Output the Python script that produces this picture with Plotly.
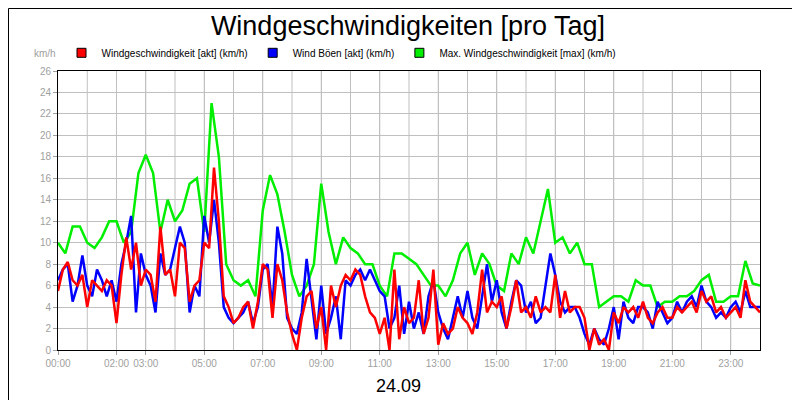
import plotly.graph_objects as go

# 10-minute samples, 00:00 .. 24:00
wind_akt = [
    5.5, 7.5, 8.2, 6.5, 6.0, 7.0,
    4.0, 6.5, 6.0, 5.5, 6.5, 6.0,
    2.5, 7.0, 10.5, 7.5, 10.0, 6.0,
    7.5, 7.0, 4.5, 11.5, 7.0, 7.5,
    5.0, 10.0, 9.5, 4.5, 6.0, 6.5,
    10.0, 9.5, 17.0, 12.0, 5.0, 4.0,
    2.5, 3.0, 4.0, 4.5, 2.0, 4.5,
    8.0, 7.5, 3.0, 8.0, 6.5, 3.5,
    1.5, 0.0, 3.0, 5.0, 5.5, 2.0,
    4.0, 0.0, 6.0, 4.0, 6.0, 7.0,
    6.5, 7.5, 7.0, 5.0, 3.5, 3.0,
    1.5, 3.0, 0.0, 7.5, 1.0, 4.0,
    2.5, 3.0, 6.5, 1.5, 3.0, 7.5,
    0.5, 2.5, 1.5, 2.0, 4.0, 3.0,
    2.5, 1.5, 3.5, 7.5, 3.5, 4.5,
    4.0, 5.0, 2.0, 4.0, 6.5, 3.5,
    4.0, 3.0, 5.0, 3.5, 4.0, 3.5,
    7.0, 3.0, 5.5, 3.5, 4.0, 4.0,
    3.0, 0.0, 2.0, 0.5, 1.0, 0.0,
    3.5, 2.5, 4.0, 3.5, 4.0, 3.0,
    4.5, 3.0, 2.5, 3.5, 4.0, 3.0,
    3.0, 4.0, 3.5, 4.0, 4.5, 3.5,
    5.5, 4.5, 5.0, 3.5, 4.0, 3.0,
    3.5, 4.0, 3.0, 6.5, 4.5, 4.0,
    3.5,
]
wind_boeen = [
    6.5, 7.5, 8.0, 4.5, 6.0, 8.8,
    6.0, 5.0, 7.5, 6.5, 5.0, 6.5,
    4.5, 8.0, 10.0, 12.5, 3.5, 9.0,
    7.0, 6.0, 3.5, 9.0, 7.0, 7.5,
    9.5, 11.5, 10.0, 3.5, 6.0, 5.0,
    12.5, 10.0, 14.0, 10.0, 4.0, 3.0,
    2.5, 3.0, 3.5, 4.5, 2.5, 4.0,
    7.5, 8.0, 4.0, 11.5, 9.0, 3.0,
    2.0, 1.5, 3.5, 8.5, 5.0, 1.0,
    6.0, 1.5, 3.0, 5.0, 1.0, 6.5,
    6.0, 7.0, 7.5, 6.5, 7.5, 6.5,
    5.5, 5.0, 2.0, 3.0, 6.0, 1.5,
    4.5, 2.0, 3.5, 1.5, 5.0, 6.5,
    3.5, 2.0, 1.0, 3.0, 5.0, 3.0,
    5.5, 3.0, 2.0, 5.0, 8.0, 4.5,
    6.5, 3.5, 2.0, 4.5, 6.5, 6.0,
    3.5, 4.5, 2.5, 3.0, 6.0, 9.0,
    7.0, 4.5, 3.5, 4.0, 4.0, 3.0,
    1.5, 0.5, 2.0, 1.0, 0.5, 2.0,
    4.0, 1.0, 4.5, 3.0, 2.5, 4.0,
    4.0, 3.5, 2.0, 4.5, 3.5, 2.5,
    3.0, 4.5, 3.5, 4.5, 5.0, 4.0,
    6.0, 4.5, 4.0, 3.0, 3.5, 3.0,
    4.0, 4.5, 3.5, 5.5, 4.0, 4.0,
    4.0,
]
# 15-minute samples, 00:00 .. 24:00
wind_max = [
    10, 9, 11.5, 11.5, 10, 9.5, 10.5, 12,
    12, 10, 11, 16.5, 18.2, 16.5, 11, 14,
    12, 13, 15.5, 16, 11, 23, 18, 8,
    6.5, 6, 6.5, 5, 13, 16.3, 14.5, 11,
    7, 5, 6, 8, 15.5, 11, 8, 10.5,
    9.5, 9, 8, 8, 6, 5, 9, 9,
    8.5, 8, 7, 6, 6, 5, 6.5, 9,
    10, 7, 9, 8, 6, 5.5, 9, 8,
    10.5, 9, 12, 15, 10, 10.5, 9, 10,
    8, 8, 4, 4.5, 5, 5, 4.5, 6.5,
    6, 6, 4, 4.5, 4.5, 5, 5, 5.5,
    6.5, 7, 4.5, 4.5, 5, 5, 8.3, 6.2,
    6,
]
x10 = [i / 6 for i in range(len(wind_akt))]
x15 = [i / 4 for i in range(len(wind_max))]

tick_vals = [0, 2, 3, 5, 7, 9, 11, 13, 15, 17, 19, 21, 23]
tick_text = ["00:00", "02:00", "03:00", "05:00", "07:00", "09:00", "11:00",
             "13:00", "15:00", "17:00", "19:00", "21:00", "23:00"]

names = ["Windgeschwindigkeit [akt] (km/h)", "Wind Böen [akt] (km/h)",
         "Max. Windgeschwindigkeit [max] (km/h)"]
colors = ["#ff0000", "#0000ff", "#00ee00"]

fig = go.Figure()
fig.add_trace(go.Scatter(x=x15, y=wind_max, mode="lines", line=dict(color=colors[2], width=2.5), showlegend=False))
fig.add_trace(go.Scatter(x=x10, y=wind_boeen, mode="lines", line=dict(color=colors[1], width=2.5), showlegend=False))
fig.add_trace(go.Scatter(x=x10, y=wind_akt, mode="lines", line=dict(color=colors[0], width=2.5), showlegend=False))
for n, c in zip(names, colors):
    fig.add_trace(go.Scatter(x=[None], y=[None], mode="markers", name=n,
                             marker=dict(symbol="square", size=9, color=c, line=dict(color="black", width=1))))

L, R, T, B = 50, 48, 63, 58
pw, ph = 800 - L - R, 400 - T - B

fig.update_layout(
    width=800, height=400, paper_bgcolor="white", plot_bgcolor="white",
    margin=dict(l=L, r=R, t=T, b=B, autoexpand=False),
    font=dict(family="Liberation Sans, Arial", size=10, color="black"),
    title=dict(text="Windgeschwindigkeiten [pro Tag]", x=0.5, xanchor="center",
               y=0.955, yanchor="middle", yref="container", font=dict(size=27)),
    legend=dict(orientation="h", x=0.005, y=0.888, xanchor="left", yanchor="middle",
                yref="container", font=dict(size=10), tracegroupgap=0),
    shapes=[dict(type="rect", xref="paper", yref="paper",
                 x0=-(L - 0.5) / pw, x1=1 + (R - 1.5) / pw,
                 y0=-(B - 1.5) / ph, y1=1 + (T - 0.5) / ph,
                 line=dict(color="black", width=1))],
    annotations=[
        dict(text="km/h", xref="paper", yref="paper", x=-0.018, y=1 + 10 / ph, showarrow=False,
             font=dict(size=10, color="#a0a0a0"), xanchor="center", yanchor="bottom"),
        dict(text="24.09", xref="paper", yref="paper", x=0.485, y=-36 / ph, showarrow=False,
             font=dict(size=18), yanchor="middle"),
    ],
)
fig.update_xaxes(range=[0, 24], tickvals=tick_vals, ticktext=tick_text,
                 showgrid=True, gridcolor="#c0c0c0", showline=True, linecolor="black", mirror=True,
                 linewidth=1, ticks="outside", ticklen=4, tickcolor="#a0a0a0",
                 tickfont=dict(color="#a0a0a0", size=10), zeroline=False)
fig.update_yaxes(range=[0, 26], dtick=2, showgrid=True, gridcolor="#c0c0c0", showline=True,
                 linecolor="black", mirror=True, ticks="outside", ticklen=4, tickcolor="#a0a0a0",
                 tickfont=dict(color="#a0a0a0", size=10), zeroline=False)
# vertical grid every hour
for h in range(1, 24):
    fig.add_vline(x=h, line=dict(color="#c0c0c0", width=1), layer="below")

fig.write_html("out.html")
